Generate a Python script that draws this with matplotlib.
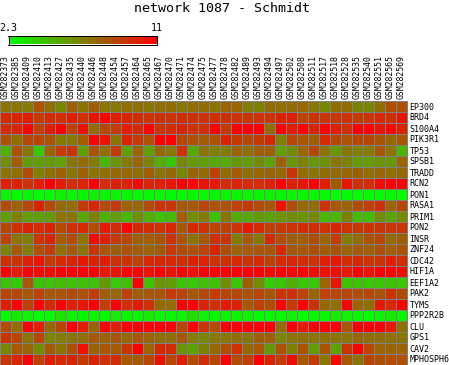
import numpy as np
import matplotlib
matplotlib.use("Agg")
import matplotlib.pyplot as plt
from matplotlib.colors import LinearSegmentedColormap

W, H = 449, 365
samples = ["GSM282373","GSM282385","GSM282409","GSM282410","GSM282413","GSM282427","GSM282435","GSM282440","GSM282446","GSM282448","GSM282454","GSM282457","GSM282464","GSM282465","GSM282467","GSM282470","GSM282471","GSM282474","GSM282475","GSM282477","GSM282478","GSM282482","GSM282489","GSM282493","GSM282494","GSM282497","GSM282502","GSM282508","GSM282511","GSM282517","GSM282518","GSM282528","GSM282535","GSM282540","GSM282551","GSM282565","GSM282569"]
genes = ["EP300","BRD4","S100A4","PIK3R1","TP53","SPSB1","TRADD","RCN2","PON1","RASA1","PRIM1","PON2","INSR","ZNF24","CDC42","HIF1A","EEF1A2","PAK2","TYMS","PPP2R2B","CLU","GPS1","CAV2","MPHOSPH6"]
vmin, vmax = 2.3, 11

EP300 = [7.0,7.0,6.8,8.2,7.2,6.4,7.8,7.0,7.8,7.0,6.9,7.2,7.2,7.0,7.2,7.3,6.9,7.3,7.3,7.0,7.6,7.6,6.7,6.6,7.3,7.2,7.3,7.5,6.9,6.4,7.3,7.3,6.5,6.4,7.2,8.3,8.3]
BRD4 = [9.6,9.8,10,9.0,9.6,9.4,10,9.3,10.3,11,10,9.8,9.5,9.2,9.5,9.2,9.5,9.4,9.4,9.5,9.4,9.3,9.2,9.3,9.3,9.9,10,8.6,9.3,9.2,9.1,9.3,9.0,9.3,9.7,9.4,10.3]
S100A4 = [9.5,9.7,11,8.8,10,11,8.8,10.3,7.3,8.6,9.0,10,9.6,11,9.3,9.5,9.8,9.3,9.5,11,9,11,11,11,7.2,11,10,11,9.7,11,10,9.4,11,11,10.2,10.8,9.8]
PIK3R1 = [8.3,7.2,8.6,8.6,8.2,6.8,6.9,7.8,11,10.3,7,9.8,9,8.3,11,11,8.6,8.2,8,8.2,9.8,9.0,8.6,9,9.6,6.6,8.6,8.2,7.8,9.6,8.6,8.2,8.6,8.6,8.2,7.4,8.1]
TP53 = [5.0,8.2,7,4.2,7.6,9,9.2,5.6,8.2,7.2,9,5.6,7.6,5.6,7.4,6.9,9.3,5.2,7,6.6,6.8,7.6,7.2,7.8,7.8,5.6,6.2,7.5,8.6,7,5.8,7,6.6,6.8,8,7,4.8]
SPSB1 = [6.2,7.8,5.7,5.6,5.7,5.5,7,7.3,6.8,4.8,6,6.8,7.5,6.5,5,4.3,6.4,5.7,5.6,5.3,5.2,5.8,5.7,6.3,5.5,7.8,5.9,6.6,5.8,6.1,7,6.6,5.7,5.7,6,5.8,7.5]
TRADD = [7,7.2,8.4,6.6,7.2,7.7,7,7.7,7,7.2,7.4,7.5,7.2,7.8,7,7.4,6.4,7.6,7.3,8.8,7.3,7.9,7.2,7.5,7.6,7.4,9.3,7.3,7,7.2,7.4,7.5,7.8,7.2,7.5,7.2,7.4]
RCN2 = [10,9.8,9.3,10,11,10,9.5,9.8,11,9.5,10,9.8,10.7,9.6,10,10.2,11,10.8,10.5,10.2,9.6,9.8,9.6,9.5,9.9,11,10,10.2,11,10,7.9,10.2,9.4,9.5,10.6,11,11]
PON1 = [2.6,2.4,2.6,2.4,2.4,2.8,2.6,2.6,2.8,2.6,2.7,2.6,2.4,2.5,2.5,2.4,2.4,2.6,2.5,2.6,2.6,2.6,2.6,2.6,2.6,2.6,2.6,2.6,2.5,2.5,2.4,2.4,2.4,2.5,2.4,2.5,2.4]
RASA1 = [8.4,7.6,8.6,9.8,8.4,7.4,7.2,9,9.8,8.4,9,7.7,7.4,8.4,9.4,9.2,8,8,8.7,8.2,8.2,8.8,9,8.4,8,10.4,8.3,7.4,7.2,9.3,8,7.6,8.3,8.8,9.4,7.6,8.6]
PRIM1 = [5.6,6.6,5.6,5.6,5.7,7,7,5.2,6.6,5,5.6,4.8,6.1,5,4.3,4.6,7.8,6.2,6.8,4.4,7,5.2,5.2,5.8,5.4,6,6.2,6.0,6.4,4.8,4.8,6.6,4.6,4.6,6.2,5.4,6.2]
PON2 = [8.6,9.4,10,9.6,9.8,8.4,9.4,9.6,8.4,10.2,9.6,11,9.6,9.6,9.3,9.8,8,9.6,9.4,8.6,8.8,9.2,10.2,9.6,8.8,9.1,9.4,9.5,9.5,9.4,9.8,9.4,9.1,9.4,9.2,9.2,9.2]
INSR = [8.8,7,6.6,9.2,9.8,8,8.4,7,10.6,9.9,9,8.6,7.8,7.8,8.2,9.2,8.2,7,8,9.4,9.2,6.8,8,7,9.6,8.4,7.8,7.8,8.4,7.6,9,6.7,7.3,8.2,8.6,7.3,7.8]
ZNF24 = [6.6,8,6.8,8.4,9,7.2,8,7,9.2,8.2,7.8,8.2,7.8,7.6,8,9,8.4,8.2,8.8,9.8,8.3,7.7,8,8.1,8.1,9.6,8,8.0,8.3,7.8,8.2,7.6,8,7.8,8.3,7.8,8.2]
CDC42 = [9.4,9.2,10,10.3,9,9.6,9.8,10.2,9.8,10,9.4,9.4,8.8,9.6,9.7,9.6,9.4,9.8,9.8,9.3,9.4,9.6,9.3,9.6,8.7,9.6,9.8,9.5,9.3,10,10.2,9.5,9.7,9.3,9.3,10,9.5]
HIF1A = [11,10,11,10.6,10.5,11,11,11,11,10.2,10.4,11,11,10.4,11,10.3,11,10.4,11,11,11,11,11,11,10.6,11,10.8,11,10.6,10.4,10.6,10.2,11,10.3,11,11,10.5]
EEF1A2 = [4.4,4,8,4.3,4.3,4.6,4.4,4.4,4.3,5.8,4.0,4.5,11,4.4,6,5.6,4.3,4.2,4.4,4.4,6.2,4.2,7.8,6.3,3.9,4.2,5,4.2,4.2,7.6,10.3,4.4,4.4,4.2,4.2,4.4,4.2]
PAK2 = [8.6,8.6,8,8.8,8,8.2,8.4,8.2,9,7.8,7.4,8.8,7.8,8,8.2,9,8.8,8,8.6,9,8.6,8.6,8.2,8.6,8.1,9.2,9.4,8.7,7.6,8.8,8.6,8.6,8.3,8.6,8.2,9.2,8.5]
TYMS = [10,11,8.8,11,9.6,11,10,10.2,11,8.8,11,9.4,10.2,9.4,7.4,7.2,11,11,9.8,9.4,10.2,9.8,8,8.8,8.4,11,9,11,9.2,7.4,7.2,11,7.6,7.2,10.2,9.6,11]
PPP2R2B = [2.4,3,2.6,2.4,2.5,3.3,2.6,2.6,2.6,2.5,3,2.7,2.5,3,2.5,2.6,2.6,3.4,2.6,2.5,2.7,2.7,2.7,2.4,2.5,2.5,2.8,2.4,2.5,2.6,3,2.8,2.5,2.4,2.7,3,2.6]
CLU = [8.4,7.2,11,10,7.4,8.6,11,10,7.6,11,10,11,11,11,11,11,8.6,11,9.2,8.4,11,11,11,11,11,7.3,11,10,11,11,11,8,11,11,11,10.2,7.2]
GPS1 = [9.2,8.6,7,8.6,6.4,6.8,7,7.2,8,7.6,8,7.4,8.2,7.6,7.2,7.2,8,6.8,6.4,7,7,7.2,7,7.8,7.8,6.4,7,7.2,7,7.2,7,7,7.5,7.2,7.2,7.2,7]
CAV2 = [6.4,8,7.6,6.2,8,7,8.2,10.4,7.6,8,8,9.2,11,7.6,9.6,9.6,6,5.4,6.6,7.5,8.4,9.4,7.4,8,5.8,8.2,6.7,8.2,5.6,8.2,5.4,9.2,11,8.6,7.6,7.6,7.6]
MPHOSPH6 = [9.2,9.7,11,8.8,10,9.6,9.8,9,9.8,9.4,9.6,8,8,8.6,10.4,8.6,10,8.4,9.6,8.6,11,8.4,8.9,11,9.8,9,10.6,8,9,6.9,10.8,8,7,8.6,8.4,8.4,8.3]

rows = [EP300,BRD4,S100A4,PIK3R1,TP53,SPSB1,TRADD,RCN2,PON1,RASA1,PRIM1,PON2,INSR,ZNF24,CDC42,HIF1A,EEF1A2,PAK2,TYMS,PPP2R2B,CLU,GPS1,CAV2,MPHOSPH6]
for g, r in zip(genes, rows):
    assert len(r) == len(samples), (g, len(r))
data = np.array(rows)

cmap = LinearSegmentedColormap.from_list("gr", ["#00ff00", "#ff0000"], N=256)
mono = "DejaVu Sans Mono"

fig = plt.figure(figsize=(W/100, H/100), dpi=100, facecolor="white")

def px_axes(x0, y0, x1, y1):
    return fig.add_axes([x0/W, 1-y1/H, (x1-x0)/W, (y1-y0)/H])

ax = px_axes(-0.5, 100.5, 406.5, 364.5)
ax.pcolormesh(data, cmap=cmap, vmin=vmin, vmax=vmax, antialiased=False, zorder=1)
ax.set_ylim(len(genes), 0)
ax.set_xlim(0, len(samples))
ax.xaxis.tick_top()
ax.yaxis.tick_right()
ax.set_xticks(np.arange(len(samples))+0.5)
ax.set_xticklabels(samples, rotation=90, family=mono, fontsize=5.9)
ax.set_yticks(np.arange(len(genes))+0.5)
ax.set_yticklabels(genes, family=mono, fontsize=6)
ax.tick_params(length=0, pad=1.5)
ax.tick_params(axis="y", pad=2.2)
ax.tick_params(axis="x", pad=1)
ax.set_xticks(np.arange(len(samples)+1), minor=True)
ax.set_yticks(np.arange(len(genes)+1), minor=True)
ax.tick_params(which="minor", length=0)
ax.grid(which="minor", color="#808080", linewidth=0.72, zorder=3)
ax.set_axisbelow(False)
for s in ax.spines.values():
    s.set_color("#808080")
    s.set_linewidth(0.72)

cax = px_axes(8.5, 35.5, 156.5, 44.5)
cax.imshow(np.linspace(vmin, vmax, 256)[None, :], cmap=cmap, vmin=vmin, vmax=vmax,
           aspect="auto", extent=[vmin, vmax, 0, 1])
cax.set_xticks([vmin, vmax])
cax.set_xticklabels(["2.3", "11"], family=mono, fontsize=7.2)
cax.xaxis.tick_top()
cax.set_yticks([])
cax.tick_params(length=0, pad=1.5)
for s in cax.spines.values():
    s.set_linewidth(0.72)
    s.set_color("black")

fig.text(222/W, 1-8/H, "network 1087 - Schmidt", family=mono, fontsize=9.6,
         ha="center", va="center", color="black")
fig.savefig("out.png", dpi=100)
